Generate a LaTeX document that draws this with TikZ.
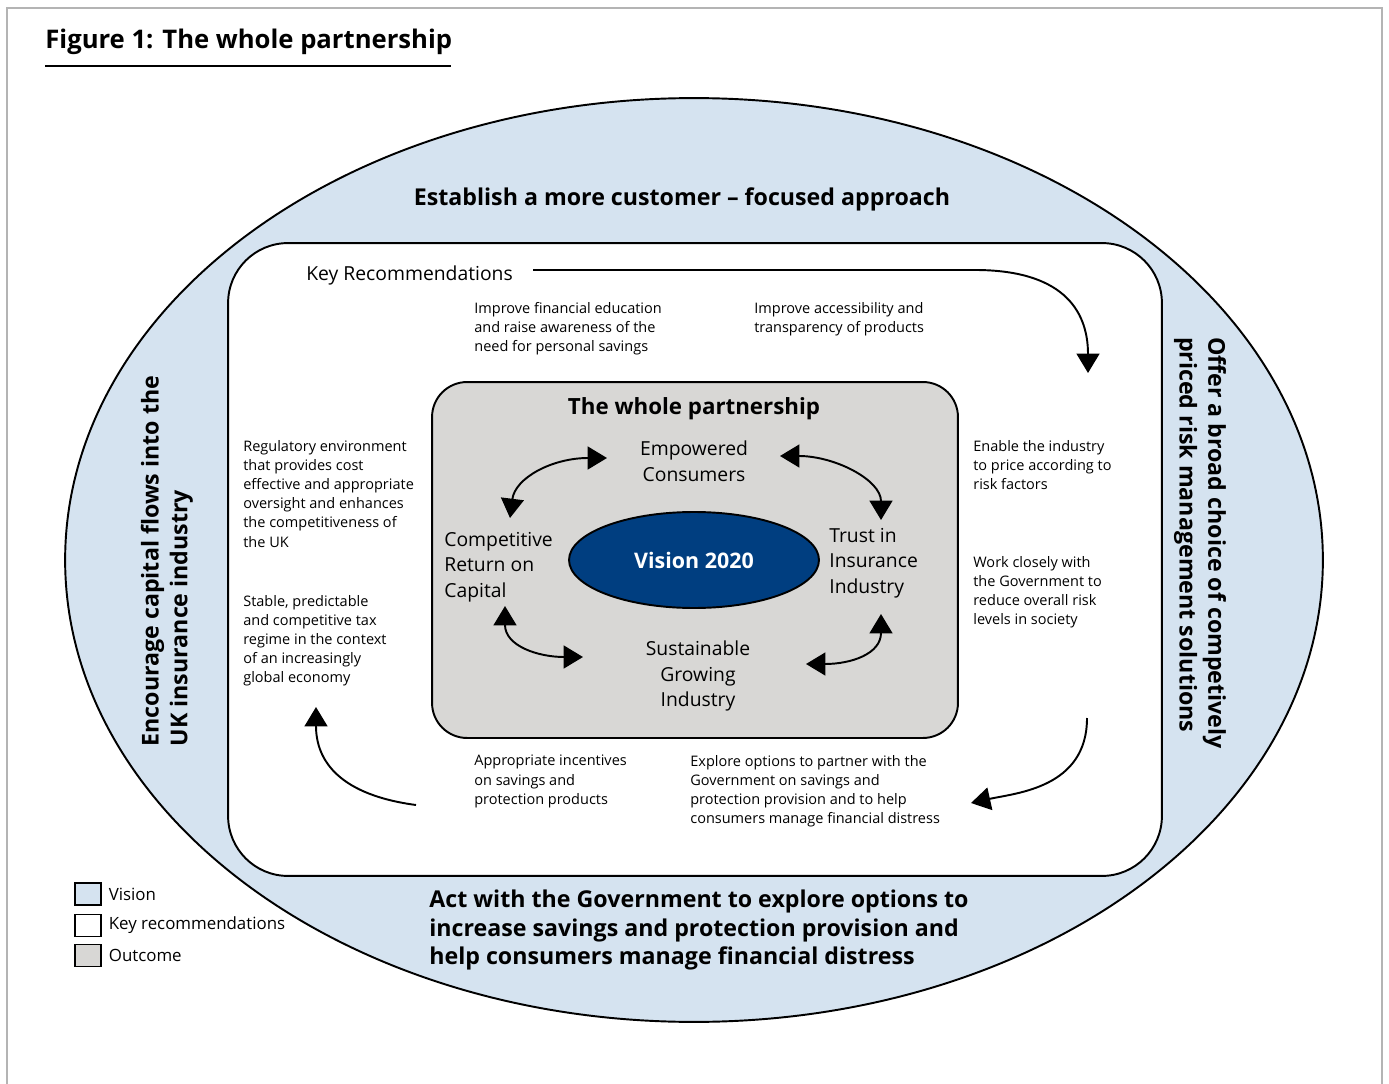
\documentclass[tikz,border=0pt]{standalone}
\usepackage{fontspec}
\setmainfont{Open Sans}
\usetikzlibrary{positioning, arrows.meta, calc, shapes.geometric}
\definecolor{visblue}{HTML}{D5E3F0}
\definecolor{outgray}{HTML}{D8D7D5}
\definecolor{darkblue}{HTML}{003E80}
\definecolor{framegray}{HTML}{B4B4B4}

\begin{document}
\begin{tikzpicture}[x=0.02cm, y=-0.02cm,
    small/.style={font=\fontsize{8.25}{10.9}\selectfont, align=left, inner sep=0pt, anchor=north west},
    mid/.style={font=\fontsize{11}{14.6}\selectfont, inner sep=0pt},
    head/.style={font=\bfseries\fontsize{13.2}{16.4}\selectfont, inner sep=0pt},
    arr/.style={line width=1.1pt, -{Triangle[length=11pt,width=13pt]}},
    dbl/.style={line width=1.1pt, {Triangle[length=11pt,width=13pt]}-{Triangle[length=11pt,width=13pt]}},
    box/.style={draw, line width=0.6pt, minimum width=0.52cm, minimum height=0.44cm, inner sep=0pt},
    legend/.style={font=\fontsize{9.6}{12}\selectfont, inner sep=0pt}
]
    \useasboundingbox (0,0) rectangle (1389,1084);
    \draw[framegray, line width=1.2pt] (7,1100) -- (7,8) -- (1382,8) -- (1382,1100);

    \node[anchor=west, font=\bfseries\fontsize{14.6}{17}\selectfont, inner sep=0pt] (title) at (45,42) {Figure 1: The whole partnership};
    \draw[line width=1.1pt] (45,66) -- (451,66);

    \node[ellipse, draw, line width=1.1pt, fill=visblue, minimum width=25.16cm, minimum height=18.48cm] (vision) at (694,560) {};
    \node[draw, line width=1.1pt, fill=white, rounded corners=1.2cm, minimum width=18.68cm, minimum height=12.66cm] (keyrec) at (695,559.5) {};
    \node[draw, line width=1.1pt, fill=outgray, rounded corners=0.7cm, minimum width=10.52cm, minimum height=7.12cm] (outcome) at (695,560) {};
    \node[ellipse, draw, line width=1.1pt, fill=darkblue, minimum width=5cm, minimum height=1.92cm,
          text=white, font=\bfseries\fontsize{12.2}{14}\selectfont] (v2020) at (694,560) {Vision 2020};

    \node[head] (vtop) at (682,199) {Establish a more customer -- focused approach};
    \node[head, align=left, anchor=west] (vbot) at (429,930) {Act with the Government to explore options to\\increase savings and protection provision and\\help consumers manage financial distress};
    \node[head, align=left, rotate=90] (vleft) at (167,561) {Encourage capital flows into the\\UK insurance industry};
    \node[head, align=left, rotate=-90] (vright) at (1200,543) {Offer a broad choice of competively\\priced risk management solutions};

    \node[mid, anchor=west] (krtitle) at (306,275) {Key Recommendations};
    \node[small] (k1) at (474,302) {Improve financial education\\and raise awareness of the\\need for personal savings};
    \node[small] (k2) at (754,302) {Improve accessibility and\\transparency of products};
    \node[small] (k3) at (243,440) {Regulatory environment\\that provides cost\\effective and appropriate\\oversight and enhances\\the competitiveness of\\the UK};
    \node[small] (k4) at (243,595) {Stable, predictable\\and competitive tax\\regime in the context\\of an increasingly\\global economy};
    \node[small] (k5) at (973,440) {Enable the industry\\to price according to\\risk factors};
    \node[small] (k6) at (973,556) {Work closely with\\the Government to\\reduce overall risk\\levels in society};
    \node[small] (k7) at (474,755) {Appropriate incentives\\on savings and\\protection products};
    \node[small] (k8) at (690,755) {Explore options to partner with the\\Government on savings and\\protection provision and to help\\consumers manage financial distress};

    \node[font=\bfseries\fontsize{12.7}{15}\selectfont, inner sep=0pt] (wptitle) at (694,409) {The whole partnership};
    \node[mid, align=center] (empow) at (694,461) {Empowered\\Consumers};
    \node[mid, align=left, anchor=west] (compet) at (444,567) {Competitive\\Return on\\Capital};
    \node[mid, align=left, anchor=west] (trust) at (829,563) {Trust in\\Insurance\\Industry};
    \node[mid, align=center] (sustain) at (698,676) {Sustainable\\Growing\\Industry};

    \coordinate (a1) at (510,518);  \coordinate (b1) at (607,458);
    \coordinate (a2) at (780,456);  \coordinate (b2) at (881,520);
    \coordinate (a3) at (505,606);  \coordinate (b3) at (583,657);
    \coordinate (a4) at (881,614);  \coordinate (b4) at (806,664);
    \draw[dbl] (a1) .. controls +(5,-40) and +(-55,0) .. (b1);
    \draw[dbl] (a2) .. controls +(55,0) and +(0,-40) .. (b2);
    \draw[dbl] (a3) .. controls +(0,40) and +(-45,0) .. (b3);
    \draw[dbl] (a4) .. controls +(0,40) and +(45,0) .. (b4);

    \coordinate (ks) at (533,270);  \coordinate (kc) at (975,270);  \coordinate (kt) at (1088,373);
    \coordinate (rs) at (1087,718); \coordinate (rt) at (971,803);
    \coordinate (ls) at (416,805);  \coordinate (lt) at (316,707);
    \draw[arr] (ks) -- (kc) .. controls +(85,0) and +(0,-65) .. (kt);
    \draw[arr] (rs) .. controls +(0,70) and +(45,-10) .. (rt);
    \draw[arr] (ls) .. controls +(-75,-10) and +(0,55) .. (lt);

    \node[box, fill=visblue] (lvis) at (88,894) {};
    \node[box, fill=white, below=0.16cm of lvis] (lkey) {};
    \node[box, fill=outgray, below=0.14cm of lkey] (lout) {};
    \node[legend, right=0.14cm of lvis] {Vision};
    \node[legend, right=0.14cm of lkey] {Key recommendations};
    \node[legend, right=0.14cm of lout] {Outcome};
\end{tikzpicture}
\end{document}
